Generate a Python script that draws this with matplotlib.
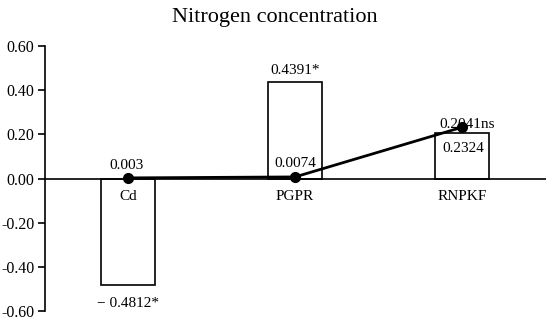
import numpy as np
import matplotlib.pyplot as plt

plt.rcParams['font.family'] = ['Liberation Serif', 'DejaVu Serif']

categories = ['Cd', 'PGPR', 'RNPKF']
bar_values = [-0.4812, 0.4391, 0.2041]
line_values = [0.003, 0.0074, 0.2324]
bar_labels = ['\u2212 0.4812*', '0.4391*', '0.2324']
line_labels = ['0.003', '0.0074', '0.2041ns']
yticks = [-0.6, -0.4, -0.2, 0.0, 0.2, 0.4, 0.6]

fig = plt.figure(figsize=(5.5, 3.2), dpi=100)
ax = fig.add_axes([0.081, 0.028, 0.911, 0.828])

x = np.arange(len(categories))
ax.bar(x, bar_values, width=0.32, color='white', edgecolor='black', linewidth=1.2, zorder=2)
ax.axhline(0, color='black', linewidth=1.2, zorder=3)
ax.plot(x, line_values, color='black', linewidth=2, marker='o', markersize=7, zorder=4)

# data labels
ax.text(x[0], bar_values[0] - 0.055, bar_labels[0], ha='center', va='top', fontsize=11)
ax.text(x[1], bar_values[1] + 0.02, bar_labels[1], ha='center', va='bottom', fontsize=11)
ax.text(x[2] + 0.01, bar_values[2] - 0.04, bar_labels[2], ha='center', va='top', fontsize=11)
ax.text(x[0] - 0.01, line_values[0] + 0.025, line_labels[0], ha='center', va='bottom', fontsize=11)
ax.text(x[1], line_values[1] + 0.03, line_labels[1], ha='center', va='bottom', fontsize=11)
ax.text(x[2] + 0.03, line_values[2] - 0.015, line_labels[2], ha='center', va='bottom', fontsize=11)

# category labels sit just under the zero line
for xi, c in zip(x, categories):
    ax.text(xi, -0.05, c, ha='center', va='top', fontsize=11)

ax.set_xlim(-0.5, 2.5)
ax.set_ylim(-0.6, 0.6)
ax.set_yticks(yticks)
ax.set_yticklabels(['%.2f' % v for v in yticks], fontsize=11.5)
ax.set_xticks([])
for s in ['top', 'right', 'bottom']:
    ax.spines[s].set_visible(False)
ax.spines['left'].set_linewidth(1.2)
ax.tick_params(axis='y', direction='out', length=5, width=1.2, pad=2.5)

fig.suptitle('Nitrogen concentration', fontsize=16, y=0.975)

fig.savefig('out.png', dpi=100)
